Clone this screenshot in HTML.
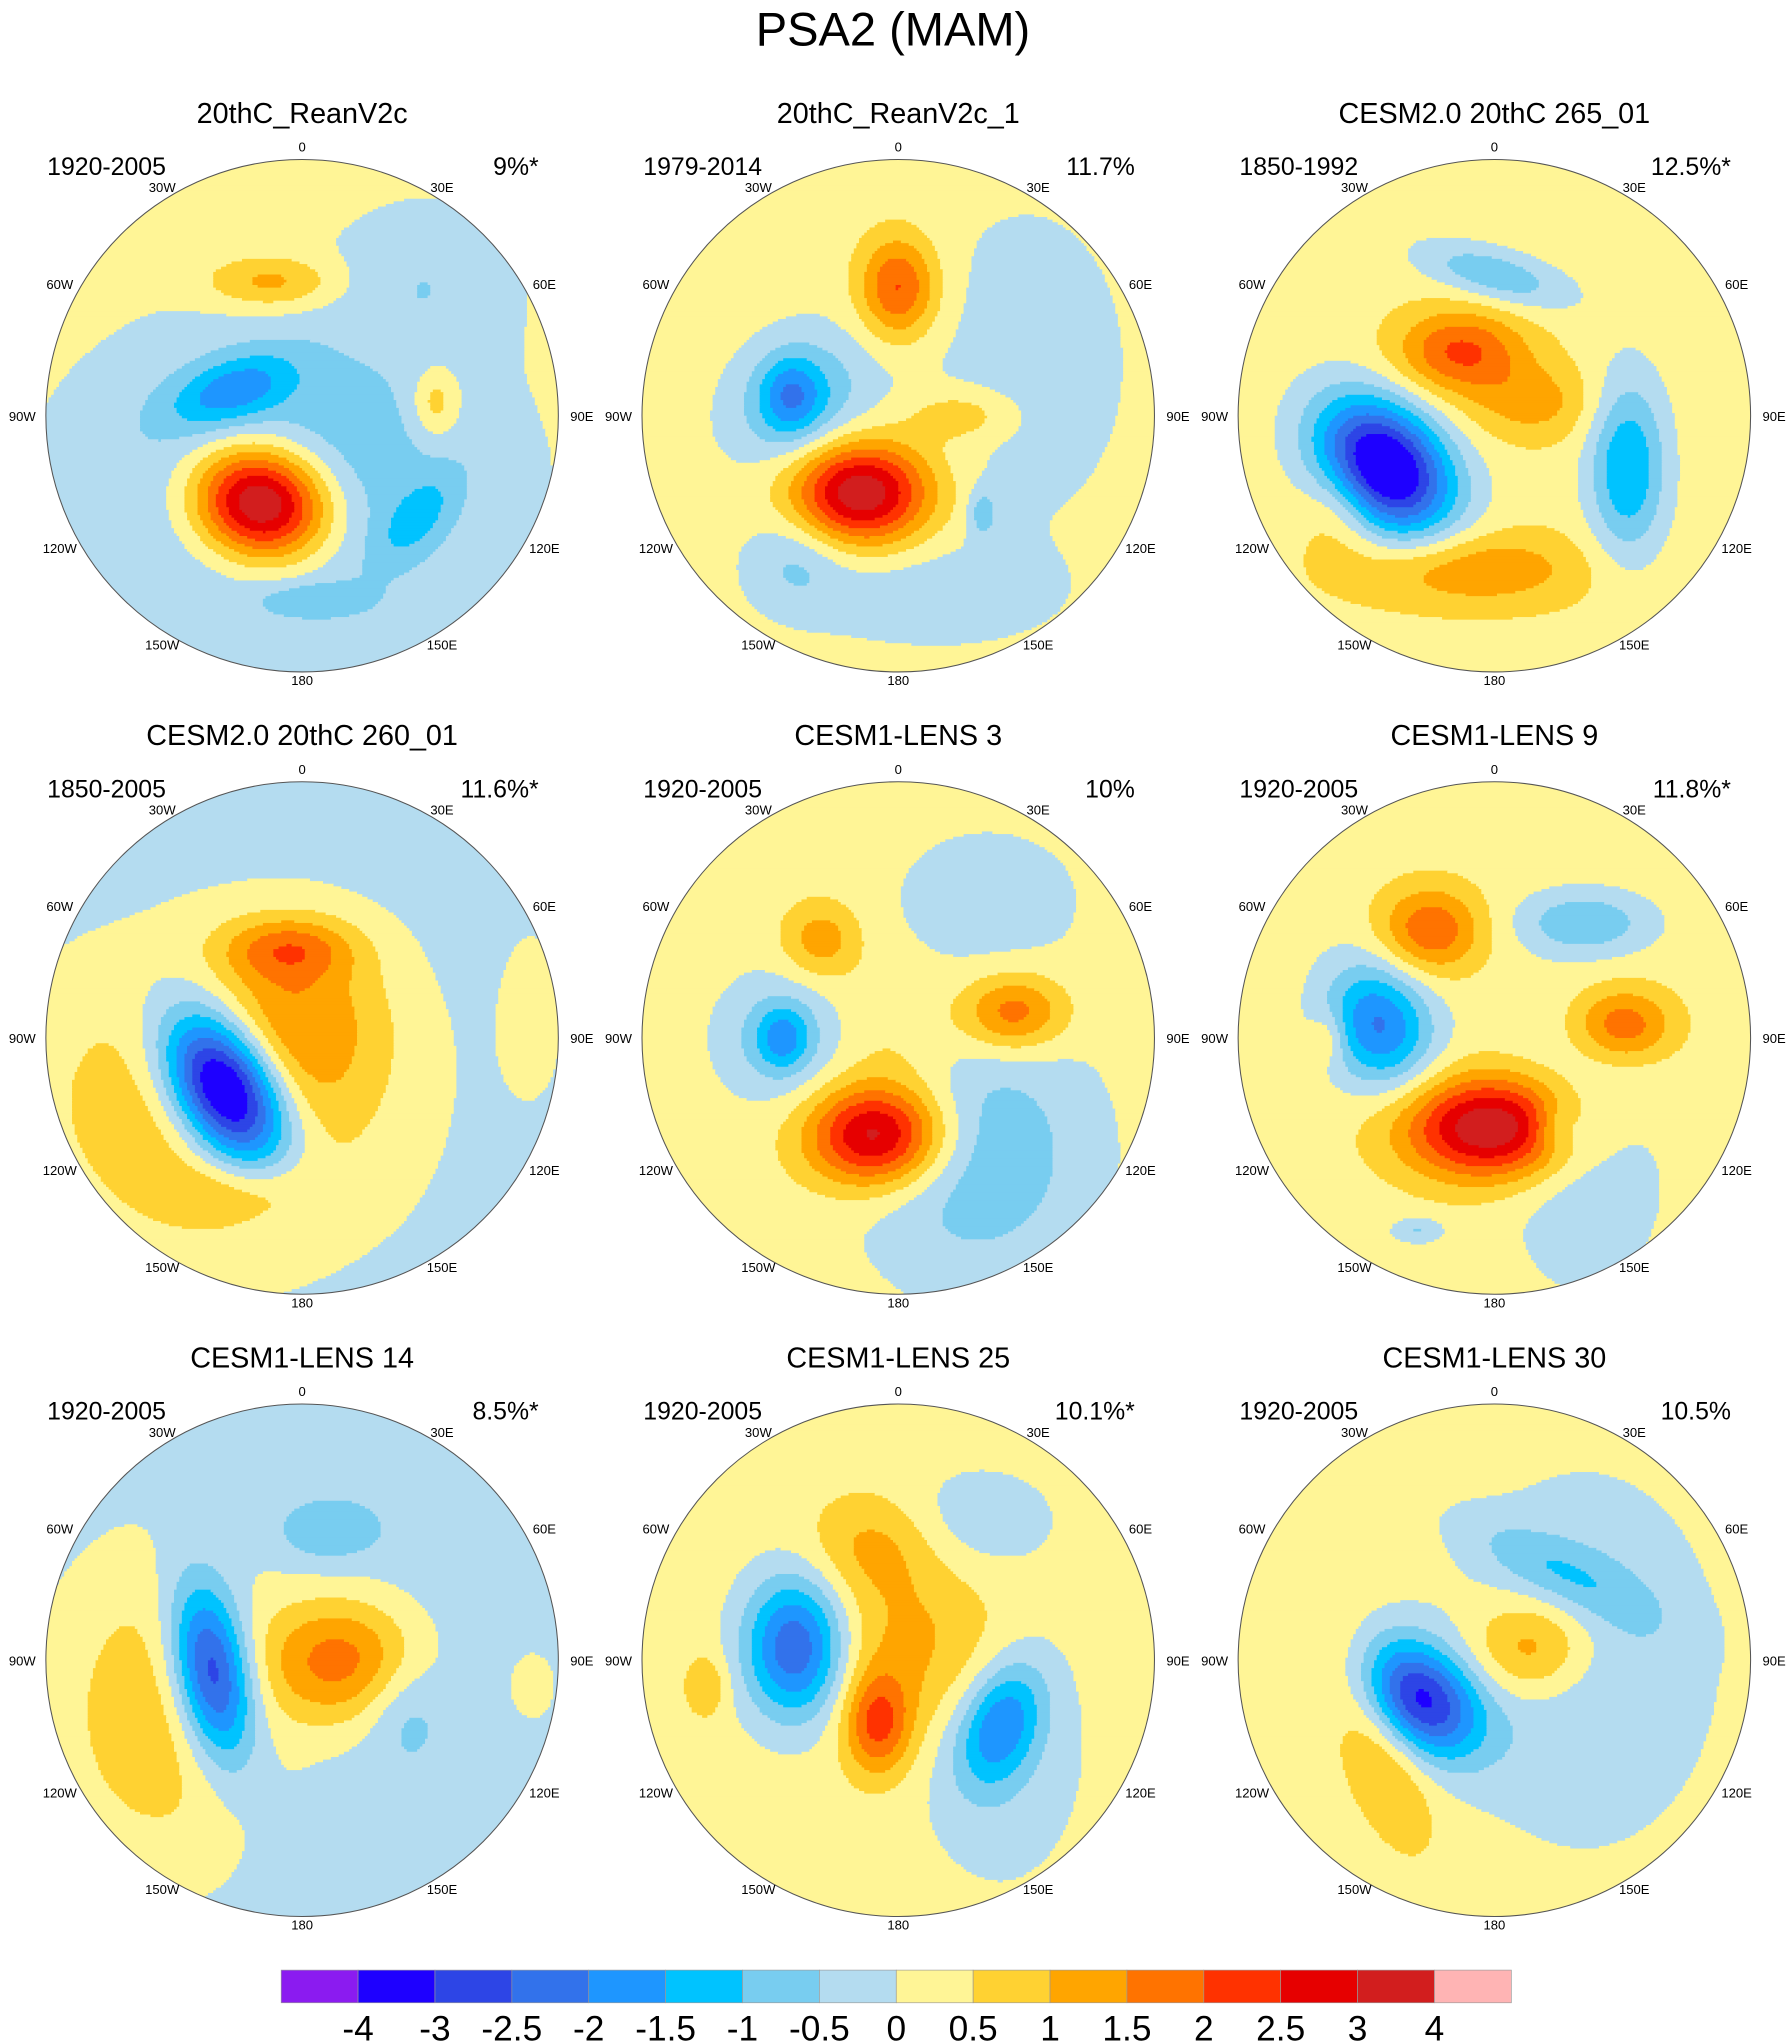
<!DOCTYPE html>
<html><head><meta charset="utf-8">
<style>html,body{margin:0;padding:0;background:#fff}svg{display:block}text{font-family:"Liberation Sans",sans-serif}</style>
</head><body>
<svg id="fig" width="1786" height="2042" viewBox="0 0 1366 1562" xmlns="http://www.w3.org/2000/svg">
<rect width="1366" height="1562" fill="#fff"/>
<text x="683" y="35" font-size="36" text-anchor="middle">PSA2 (MAM)</text>
<g id="panels"></g>
<g id="colorbar"></g>
</svg>
<script>
const levelBounds = [-4,-3,-2.5,-2,-1.5,-1,-0.5,0,0.5,1,1.5,2,2.5,3,4];
const levelLabels = ["-4","-3","-2.5","-2","-1.5","-1","-0.5","0","0.5","1","1.5","2","2.5","3","4"];
const levelColors = ["#8B1BF0","#1E00FF","#2D45E6","#3272EB","#1E96FF","#00C3FF","#78CDF0","#B4DCF0","#FFF596","#FFD232","#FFA500","#FF7300","#FF3200","#E60000","#D21E1E","#FFB4B4"];
const panelTitles = ["20thC_ReanV2c","20thC_ReanV2c_1","CESM2.0 20thC 265_01","CESM2.0 20thC 260_01","CESM1-LENS 3","CESM1-LENS 9","CESM1-LENS 14","CESM1-LENS 25","CESM1-LENS 30"];
const panelYears = ["1920-2005","1979-2014","1850-1992","1850-2005","1920-2005","1920-2005","1920-2005","1920-2005","1920-2005"];
const panelPct = ["9%*","11.7%","12.5%*","11.6%*","10%","11.8%*","8.5%*","10.1%*","10.5%"];
const panelBackground = [0.25,0.25,0.3,-0.25,0.25,0.25,-0.3,0.25,0.3];
// anomaly centres: [x, y, sigmaX, sigmaY, rotationDeg] in map-radius units
const panelShapes = [
 [[-0.05,0.25,0.8,0.6,0],[0.5,-0.55,0.35,0.3,0],[-0.27,-0.1,0.25,0.12,-20],[0.45,0.4,0.2,0.1,-50],[0.05,0.72,0.22,0.07,0],[-0.12,-0.52,0.25,0.1,0],[0.52,-0.05,0.09,0.14,0],[-0.16,0.34,0.27,0.22,15]],
 [[0.5,-0.2,0.45,0.7,0],[-0.38,-0.05,0.3,0.25,-40],[-0.42,-0.08,0.12,0.15,0],[-0.15,0.3,0.27,0.2,0],[0,-0.5,0.15,0.2,0],[0.1,0.7,0.5,0.2,0],[-0.4,0.55,0.2,0.2,0],[0.33,0.38,0.06,0.1,0],[0.25,0,0.2,0.1,0]],
 [[-0.43,0.2,0.3,0.22,45],[0.52,0.2,0.15,0.35,0],[0,-0.55,0.3,0.1,15],[-0.13,-0.25,0.25,0.16,0],[0.15,-0.05,0.25,0.15,0],[-0.1,0.6,0.45,0.15,0],[-0.6,0.35,0.15,0.2,0]],
 [[-0.35,0.25,0.7,0.6,0],[-0.3,0.2,0.2,0.33,-30],[-0.05,-0.35,0.25,0.12,0],[-0.2,0.6,0.3,0.12,0],[0,-0.1,0.35,0.35,0],[0.9,-0.1,0.15,0.4,0]],
 [[0.3,0.45,0.45,0.5,0],[0.35,-0.55,0.4,0.3,0],[-0.45,0,0.25,0.25,0],[-0.45,0,0.1,0.12,0],[-0.08,0.38,0.27,0.2,0],[0.45,-0.1,0.2,0.15,0],[-0.3,-0.38,0.15,0.15,0],[0,0,0.3,0.25,0]],
 [[-0.45,-0.05,0.2,0.25,-20],[0.35,-0.45,0.25,0.12,0],[0,0.35,0.35,0.2,0],[-0.25,-0.42,0.2,0.17,0],[0.5,-0.05,0.2,0.15,0],[0.35,0.45,0.3,0.5,0],[0.25,0.35,0.1,0.1,0],[-0.3,0.75,0.1,0.05,0],[-0.65,0,0.07,0.1,0]],
 [[-0.55,0.2,0.45,0.65,0],[0.15,0,0.3,0.25,0],[-0.35,0.05,0.15,0.35,-10],[0.1,-0.5,0.2,0.12,0],[0.9,0.1,0.1,0.15,0],[0.4,0.2,0.15,0.2,0]],
 [[-0.4,-0.05,0.2,0.28,0],[-0.08,0.25,0.13,0.2,0],[0.4,0.25,0.15,0.25,20],[0.4,0.3,0.35,0.6,0],[0.1,-0.05,0.4,0.35,0],[-0.1,-0.45,0.25,0.2,0],[0.3,-0.55,0.3,0.2,0],[-0.75,0.1,0.08,0.12,0]],
 [[0.35,0,0.5,0.7,0],[0.25,-0.35,0.4,0.12,25],[-0.3,0.15,0.27,0.2,40],[0.15,-0.05,0.25,0.2,0],[-0.45,0.3,0.15,0.4,-20]]
];
// anomaly peak amplitudes
const panelAmps = [
 [-1.3,-0.6,-1.4,-0.8,-0.7,1.1,1.0,4.4],
 [-0.5,-1.2,-1.3,3.3,1.9,-0.6,-0.8,-0.9,0.8],
 [-4.3,-1.8,-1.2,1.8,0.9,1.2,0.7],
 [1.4,-5.0,1.3,0.6,1.0,0.4],
 [-1.2,-0.5,-1.0,-1.2,3.3,1.7,1.1,0.5],
 [-2.3,-1.2,3.4,1.7,1.7,-0.8,-0.8,-0.8,0.7],
 [1.2,1.9,-3.3,-0.7,0.6,-0.6],
 [-2.8,1.8,-1.9,-0.6,1.0,0.8,-0.6,0.8],
 [-0.9,-0.8,-3.4,1.5,1.1]
];
const lonLabels = ["0","30E","60E","90E","120E","150E","180","150W","120W","90W","60W","30W"];

const NS="http://www.w3.org/2000/svg";
function mk(tag,attrs,parent){const e=document.createElementNS(NS,tag);for(const k in attrs)e.setAttribute(k,attrs[k]);if(parent)parent.appendChild(e);return e;}
function colorIndex(v){let i=0;while(i<levelBounds.length&&v>=levelBounds[i])i++;return i;}

const R=196, colX=[231,687,1143], rowY=[318,794,1270], STEP=2;
const panelsG=document.getElementById('panels');
panelTitles.forEach((title,p)=>{
  const cx=colX[p%3], cy=rowY[Math.floor(p/3)];
  const g=mk('g',{},panelsG);
  
  
  const clip=mk('clipPath',{id:'c'+p},g);
  mk('circle',{cx:cx,cy:cy,r:R},clip);
  const inner=mk('g',{'clip-path':'url(#c'+p+')'},g);
  
  
  const shapes=panelShapes[p], amps=panelAmps[p], bg=panelBackground[p];
  const pre=shapes.map(s=>{const a=s[4]*Math.PI/180;return [s[0],s[1],s[2],s[3],Math.cos(a),Math.sin(a)];});
  function field(u,v){
    let f=bg;
    for(let k=0;k<pre.length;k++){
      const s=pre[k];const dx=u-s[0],dy=v-s[1];
      const a=(dx*s[4]+dy*s[5])/s[2], b=(-dx*s[5]+dy*s[4])/s[3];
      f+=amps[k]*Math.exp(-(a*a+b*b));
    }
    return f;
  }
  for(let y=cy-R;y<cy+R;y+=STEP){
    let runStart=cx-R, runIdx=-1;
    for(let x=cx-R;x<=cx+R;x+=STEP){
      const idx=x<cx+R?colorIndex(field((x+STEP/2-cx)/R,(y+STEP/2-cy)/R)):-2;
      if(idx!==runIdx){
        if(runIdx>=0){
          mk('rect',{x:runStart,y:y,width:x-runStart+0.6,height:STEP+0.6,fill:levelColors[runIdx]},inner);
        }
        runStart=x;runIdx=idx;
      }
    }
  }
  mk('circle',{cx:cx,cy:cy,r:R,fill:'none',stroke:'#555','stroke-width':0.8},g);
  const t=mk('text',{x:cx,y:cy-224,'font-size':22,'text-anchor':'middle'},g);t.textContent=title;
  
  
  const yl=mk('text',{x:cx-195,y:cy-184,'font-size':19},g);yl.textContent=panelYears[p];
  
  
  const pc=mk('text',{x:cx+181,y:cy-184,'font-size':19,'text-anchor':'end'},g);pc.textContent=panelPct[p];
  
  
  lonLabels.forEach((lab,i)=>{
    const a=i*30*Math.PI/180;
    const lt=mk('text',{x:cx+Math.sin(a)*214,y:cy-Math.cos(a)*(i===0?206:202)+4,'font-size':10,'text-anchor':'middle'},g);
    lt.textContent=lab;
    
    
  });
});

const cb=document.getElementById('colorbar');
const x0=215,w=941/levelColors.length,yb=1507,hb=25;
levelColors.forEach((c,i)=>{
  const r=mk('rect',{x:x0+i*w,y:yb,width:w,height:hb,fill:c,stroke:'#999','stroke-width':0.5},cb);
  
  
});
levelLabels.forEach((lab,i)=>{
  const t=mk('text',{x:x0+(i+1)*w,y:1561,'font-size':27,'text-anchor':'middle'},cb);
  t.textContent=lab;
  
  
});
</script>
</body></html>
